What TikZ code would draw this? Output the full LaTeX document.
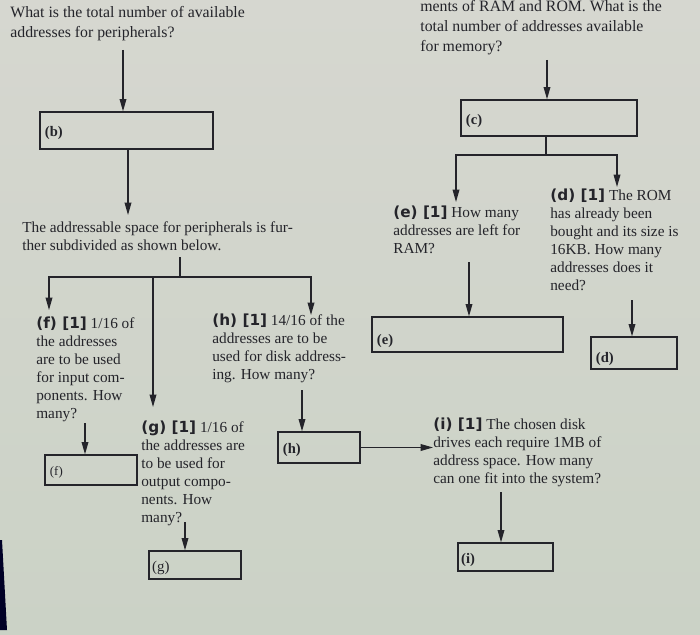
\documentclass[tikz,border=0pt]{standalone}
\usepackage{fontspec}
\setmainfont{Liberation Serif}
\newfontfamily\partfont{DejaVu Sans}
\usetikzlibrary{arrows.meta,fit,positioning}
\definecolor{paper}{RGB}{214,215,208}
\definecolor{paperlow}{RGB}{203,210,198}
\definecolor{ink}{RGB}{36,36,42}
\newcommand{\qpart}[1]{{\partfont\bfseries #1}}

\begin{document}
\begin{tikzpicture}[x=0.02cm,y=-0.02cm,
  qtext/.style={anchor=north west,align=left,inner sep=0pt,text=ink,font=\fontsize{8.7}{10.2}\selectfont},
  qtop/.style={qtext,font=\fontsize{9}{11.3}\selectfont},
  ansbox/.style={draw=ink,line width=0.75pt,inner sep=0pt},
  anslabel/.style={anchor=west,inner sep=0pt,text=ink,yshift=-1.5pt,font=\fontsize{8.3}{9}\selectfont\bfseries},
  link/.style={draw=ink,line width=0.7pt},
  arr/.style={link,-{Triangle[length=7pt,width=3.8pt]}}]
\useasboundingbox (0,0) rectangle (700,635);
\shade[top color=paper,bottom color=paperlow] (0,0) rectangle (700,635);
\fill[black!85!blue] (0,540) -- (2,540) -- (7,630) -- (0,630) -- cycle;

\node[qtop] (qperi) at (10,6) {What is the total number of available\\addresses for peripherals?};
\node[qtop] (qmem) at (420,0) {ments of RAM and ROM. What is the\\total number of addresses available\\for memory?};
\node[qtext] (qspace) at (22,221) {The addressable space for peripherals is fur-\\ther subdivided as shown below.};
\node[qtext] (qe) at (393,206) {\qpart{(e) [1]} How many\\addresses are left for\\RAM?};
\node[qtext] (qd) at (550,189) {\qpart{(d) [1]} The ROM\\has already been\\bought and its size is\\16KB. How many\\addresses does it\\need?};
\node[qtext] (qf) at (36,317) {\qpart{(f) [1]} 1/16 of\\the addresses\\are to be used\\for input com-\\ponents. How\\many?};
\node[qtext] (qh) at (212,314) {\qpart{(h) [1]} 14/16 of the\\addresses are to be\\used for disk address-\\ing. How many?};
\node[qtext] (qg) at (141,421) {\qpart{(g) [1]} 1/16 of\\the addresses are\\to be used for\\output compo-\\nents. How\\many?};
\node[qtext] (qi) at (433,418) {\qpart{(i) [1]} The chosen disk\\drives each require 1MB of\\address space. How many\\can one fit into the system?};

\node[ansbox,fit={(40,112) (213,149)}] (boxb) {};
\node[ansbox,fit={(461,100) (637,136)}] (boxc) {};
\node[ansbox,fit={(372,317) (563,352)}] (boxe) {};
\node[ansbox,fit={(591,337) (677,369)}] (boxd) {};
\node[ansbox,fit={(45,455) (137,485)}] (boxf) {};
\node[ansbox,fit={(278,432) (360,463)}] (boxh) {};
\node[ansbox,fit={(149,551) (241,579)}] (boxg) {};
\node[ansbox,fit={(458,543) (553,571)}] (boxi) {};

\node[anslabel,right=3pt of boxb.west] (lb) {(b)};
\node[anslabel,right=3pt of boxc.west] (lc) {(c)};
\node[anslabel,right=3pt of boxe.west,yshift=-2pt] (le) {(e)};
\node[anslabel,right=3pt of boxd.west,yshift=-2pt] (ld) {(d)};
\node[anslabel,right=3pt of boxf.west,font=\fontsize{7.3}{9}\selectfont] (lf) {(f)};
\node[anslabel,right=3pt of boxh.west] (lh) {(h)};
\node[anslabel,right=2pt of boxg.west,font=\fontsize{8.5}{9}\selectfont] (lg) {(g)};
\node[anslabel,right=2pt of boxi.west] (li) {(i)};

\coordinate (b-in) at (123,50);
\coordinate (space-in) at (128,215);
\coordinate (split1top) at (180,257);
\coordinate (split1) at (180,277);
\coordinate (f-in) at (49,310);
\coordinate (g-in) at (153,407);
\coordinate (h-in) at (311,315);
\coordinate (f-out) at (85,423);
\coordinate (g-out) at (185,522);
\coordinate (h-out) at (302,390);
\coordinate (i-out) at (501,492);
\coordinate (c-in) at (547,60);
\coordinate (split2) at (546,155);
\coordinate (e-in) at (456,202);
\coordinate (d-in) at (617,187);
\coordinate (e-out) at (469,262);
\coordinate (d-out) at (632,300);

\draw[arr] (b-in) -- (b-in |- boxb.north);
\draw[arr] (boxb.south -| space-in) -- (space-in);
\draw[link] (split1top) -- (split1);
\draw[arr] (split1) -| (f-in);
\draw[arr] (split1) -| (g-in);
\draw[arr] (split1) -| (h-in);
\draw[arr] (f-out) -- (f-out |- boxf.north);
\draw[arr] (g-out) -- (g-out |- boxg.north);
\draw[arr] (h-out) -- (h-out |- boxh.north);
\draw[arr] (boxh.east) -- (qi.west |- boxh.east);
\draw[arr] (i-out) -- (i-out |- boxi.north);
\draw[arr] (c-in) -- (c-in |- boxc.north);
\draw[link] (boxc.south -| split2) -- (split2);
\draw[arr] (split2) -| (e-in);
\draw[arr] (split2) -| (d-in);
\draw[arr] (e-out) -- (e-out |- boxe.north);
\draw[arr] (d-out) -- (d-out |- boxd.north);

\end{tikzpicture}
\end{document}
